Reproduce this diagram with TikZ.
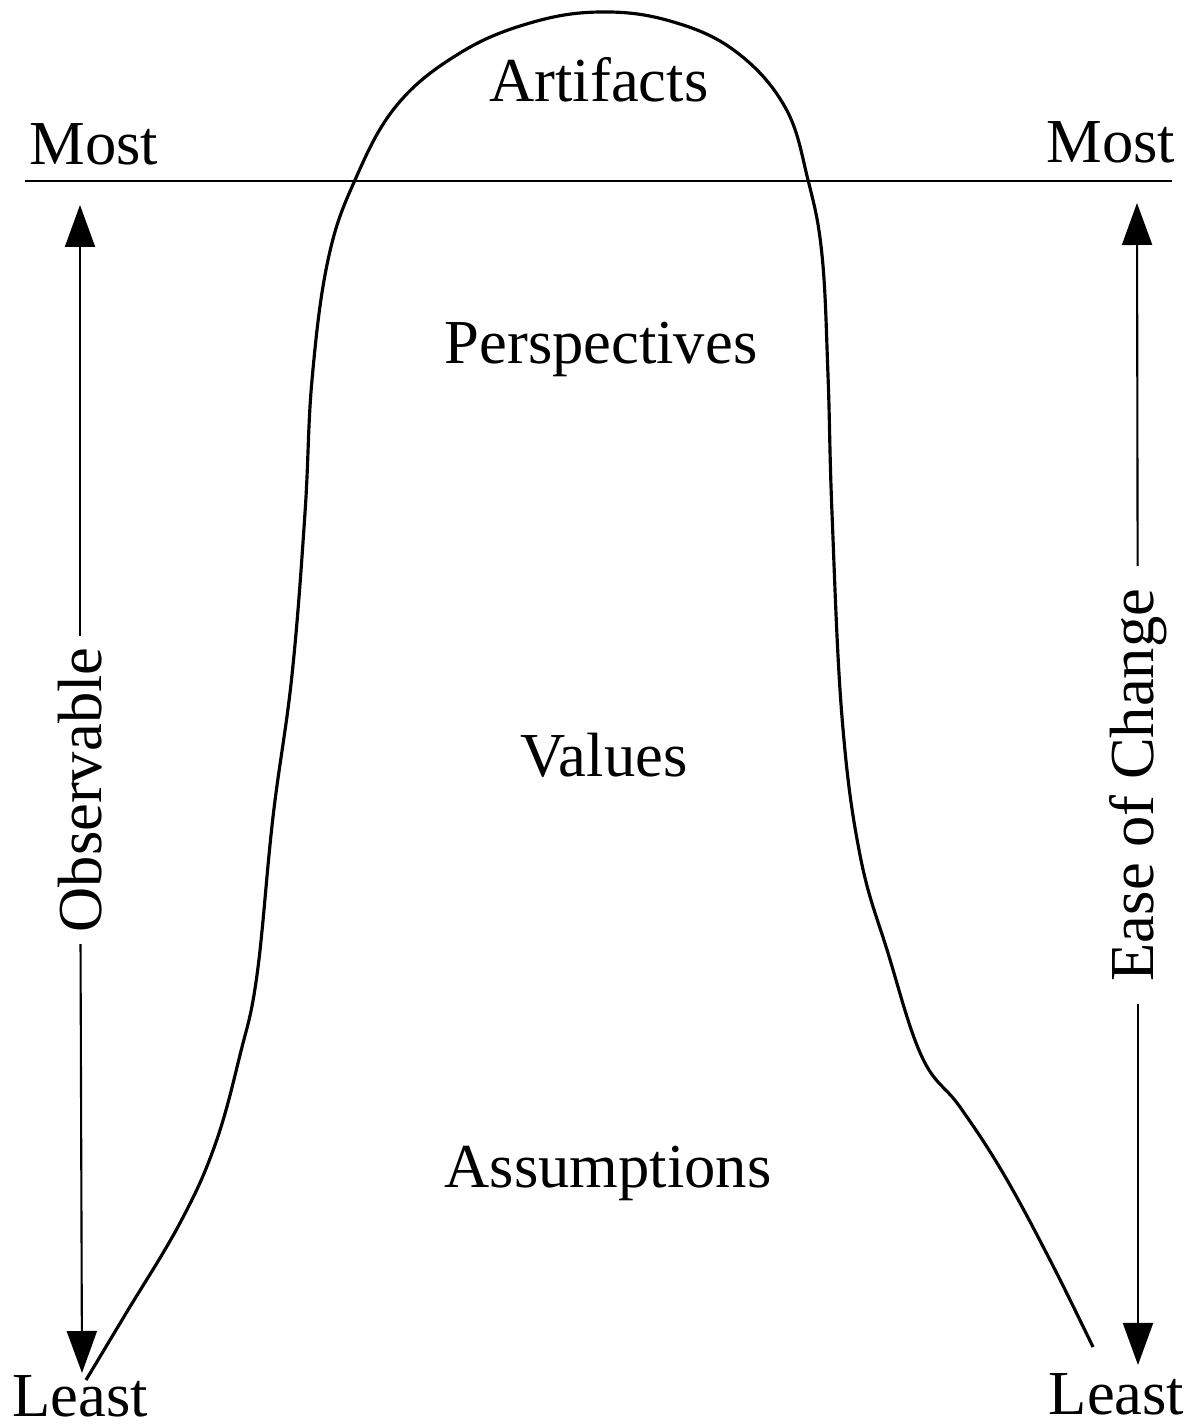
\documentclass[tikz,border=0pt]{standalone}
\usepackage{fontspec}
\setmainfont{Liberation Serif}
\usepackage{tikz}
\usetikzlibrary{arrows.meta,positioning}

\begin{document}
\begin{tikzpicture}[
  lbl/.style={inner sep=0pt,font=\fontsize{17.8pt}{21pt}\selectfont},
  side/.style={lbl,rotate=90,inner ysep=0pt},
  axis/.style={-{Triangle[length=0.42cm,width=0.3cm]},line width=0.6pt},
  hill/.style={line width=0.9pt},
]
\useasboundingbox (0,0) rectangle (11.96,14.25);
% levels inside the hill
\node[lbl,anchor=base] (art) at (5.99,13.23) {Artifacts};
\node[lbl,anchor=base] (persp) at (6.01,10.61) {Perspectives};
\node[lbl,anchor=base] (val) at (6.04,6.48) {Values};
\node[lbl,anchor=base] (assum) at (6.08,2.37) {Assumptions};
% end labels
\node[lbl,anchor=base west] (mostL) at (0.29,12.60) {Most};
\node[lbl,anchor=base east] (mostR) at (11.76,12.62) {Most};
\node[lbl,anchor=base west] (leastL) at (0.12,0.09) {Least};
\node[lbl,anchor=base east] (leastR) at (11.85,0.10) {Least};
% side scales
\node[side,inner xsep=0.11cm] (obs) at (0.80,6.35) {Observable};
\node[side,inner xsep=0.22cm] (ease) at (11.38,6.40) {Ease of Change};
\coordinate (obsTop) at (0.80,12.20);
\coordinate (obsBot) at (0.82,0.52);
\coordinate (easeTop) at (11.37,12.22);
\coordinate (easeBot) at (11.38,0.60);
\draw[axis] (obs) -- (obsTop);
\draw[axis] (obs) -- (obsBot);
\draw[axis] (ease) -- (easeTop);
\draw[axis] (ease) -- (easeBot);
% surface line
\coordinate (lineL) at (0.25,12.44);
\coordinate (lineR) at (11.72,12.44);
\draw[line width=0.8pt] (lineL) -- (lineR);
% the hill
\draw[hill] plot[smooth,tension=0.65] coordinates {
  (0.86,0.45) (1.25,1.10) (1.80,2.02) (2.15,2.80) (2.40,3.70)
  (2.57,4.50) (2.73,6.08) (2.92,7.50) (3.05,9.12) (3.12,10.45) (3.28,11.65)
  (3.55,12.45) (3.97,13.20) (4.60,13.72) (5.30,14.02) (6.00,14.13)
  (6.70,14.04) (7.35,13.74) (7.85,13.18) (8.08,12.45) (8.22,11.70)
  (8.28,10.50) (8.32,9.12) (8.42,7.08) (8.60,5.70) (8.88,4.72)
  (9.22,3.68) (9.60,3.18) (10.03,2.52) (10.50,1.65) (10.93,0.78)};
\end{tikzpicture}
\end{document}
